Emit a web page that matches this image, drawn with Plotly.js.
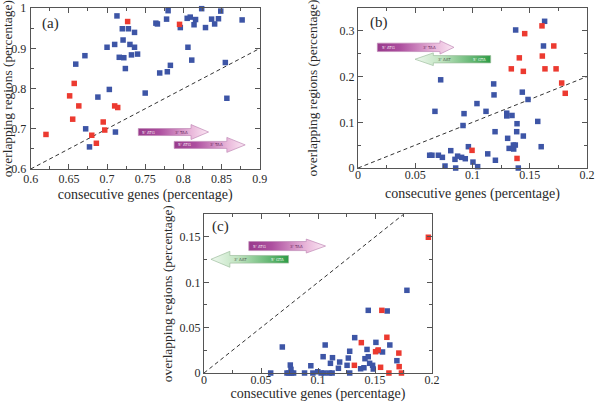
<!DOCTYPE html>
<html>
<head>
<meta charset="utf-8">
<script src="https://cdn.plot.ly/plotly-3.0.1.min.js"></script>
<style>html,body{margin:0;padding:0;background:#fff;}#chart{width:600px;height:402px;}</style>
</head>
<body>
<div id="chart"></div>
<script>
// ---------- data ----------
const xTitle = 'consecutive genes (percentage)';
const yTitle = 'overlapping regions (percentage)';
const panelLabels = ['(a)', '(b)', '(c)'];

// panel (a)
const aBlueX = [0.713,0.720,0.728,0.736,0.721,0.710,0.730,0.700,0.736,0.671,0.716,0.722,0.732,0.740,0.724,0.659,0.703,0.688,0.672,0.711,0.677,0.750,0.764,0.766,0.778,0.780,0.769,0.779,0.783,0.796,0.805,0.809,0.814,0.816,0.824,0.829,0.837,0.841,0.846,0.849,0.877,0.806,0.811,0.855,0.857];
const aBlueY = [0.981,0.949,0.949,0.940,0.921,0.910,0.910,0.903,0.903,0.882,0.878,0.877,0.884,0.886,0.850,0.861,0.798,0.779,0.700,0.692,0.655,0.789,0.963,0.961,0.973,0.994,0.839,0.842,0.858,0.952,0.975,0.978,0.959,0.972,0.999,0.952,0.973,0.961,0.974,0.993,0.971,0.903,0.871,0.865,0.776];
const aRedX = [0.727,0.795,0.657,0.651,0.663,0.655,0.710,0.714,0.695,0.697,0.680,0.686,0.620];
const aRedY = [0.967,0.960,0.813,0.782,0.757,0.724,0.757,0.753,0.717,0.697,0.684,0.664,0.686];

// panel (b)
const bBlueX = [0.0722,0.0672,0.0926,0.0917,0.081,0.0626,0.0646,0.0702,0.0737,0.076,0.0847,0.087,0.0905,0.0937,0.0964,0.0853,0.1004,0.163,0.1377,0.162,0.1185,0.1188,0.1435,0.1485,0.1039,0.1118,0.1299,0.1299,0.1345,0.1389,0.157,0.1197,0.1386,0.1444,0.1307,0.1357,0.1374,0.132,0.136,0.160,0.1133,0.1045,0.12,0.14];
const bBlueY = [0.193,0.124,0.119,0.093,0.038,0.028,0.028,0.028,0.0234,0.0044,0.019,0.026,0.0234,0.0204,0.0467,0.0,0.013,0.321,0.302,0.267,0.184,0.160,0.166,0.150,0.141,0.124,0.120,0.114,0.115,0.097,0.102,0.0795,0.0795,0.070,0.065,0.0503,0.0503,0.043,0.0416,0.0467,0.031,0.003,0.017,0.0];
const bRedX = [0.0996,0.1607,0.1456,0.171,0.1409,0.161,0.1339,0.1444,0.1633,0.173,0.1779,0.181,0.1389];
const bRedY = [0.0387,0.311,0.294,0.267,0.241,0.245,0.217,0.2115,0.217,0.217,0.186,0.1635,0.021];

// panel (c)
const cBlueX = [0.0687,0.0585,0.0757,0.0763,0.0728,0.0745,0.0768,0.0786,0.0882,0.0937,0.0955,0.178,0.1441,0.1607,0.1322,0.1063,0.1045,0.1508,0.163,0.143,0.1278,0.1127,0.119,0.1266,0.1412,0.1441,0.1528,0.1566,0.1109,0.1179,0.1255,0.1374,0.1403,0.1453,0.1479,0.1485,0.1692,0.0998,0.1028,0.1054,0.11,0.1124,0.1278];
const cBlueY = [0.0287,0,0.0088,0.004,0,0,0,0,0,0.008,0,0.0912,0.0691,0.0684,0.039,0.0309,0.018,0.0338,0.0309,0.026,0.024,0.0169,0.0121,0.0165,0.0158,0.018,0.0246,0.0232,0.0107,0.0052,0.0085,0.0047,0.0058,0.0107,0.0085,0.0044,0.0136,0.0014,0,0,0,0,0];
const cRedX = [0.1968,0.156,0.138,0.1604,0.1505,0.1528,0.1709,0.1319,0.1549,0.1712,0.1622,0.1732];
const cRedY = [0.1497,0.0691,0.0335,0.0394,0.0235,0.0254,0.022,0.0085,0.0063,0.007,0,0];

// axis ranges
const aXRange = [0.6, 0.9], aYRange = [0.6, 1.0];
const bXRange = [0, 0.2], bYRange = [0, 0.35];
const cXRange = [0, 0.2], cYRange = [0, 0.175];

// ---------- styles ----------
const BLUE = '#3d55a6', RED = '#ec3a30';
const FONT = '"Liberation Serif", "Times New Roman", Times, serif';
const TXT = '#2a2a2a';
const FRAME = '#555';

function axis(extra) {
  const base = {
    showline: true, mirror: 'allticks', linecolor: FRAME, linewidth: 1,
    ticks: 'inside', ticklen: 5, tickcolor: FRAME, tickwidth: 1,
    showgrid: false, zeroline: false, fixedrange: true,
    tickfont: {family: FONT, size: 12, color: TXT},
    minor: {ticks: 'inside', ticklen: 3, tickcolor: FRAME, showgrid: false},
  };
  const out = Object.assign({}, base, extra);
  out.minor = Object.assign({}, base.minor, extra.minor || {});
  return out;
}
function xTitleObj(s) { return {text: xTitle, font: {family: FONT, size: 14, color: TXT}, standoff: s}; }
function yTitleObj(s) { return {text: yTitle, font: {family: FONT, size: 13.4, color: TXT}, standoff: s}; }

const traces = [];
function scatter(xs, ys, color, xa, ya) {
  traces.push({type: 'scatter', mode: 'markers', x: xs, y: ys, xaxis: xa, yaxis: ya,
    cliponaxis: false, hoverinfo: 'skip',
    marker: {symbol: 'square', size: 5.5, color: color, line: {width: 0}}});
}
function diag(xr, yr, xa, ya) {
  const lo = Math.min(xr[0], yr[0]), hi = Math.max(xr[1], yr[1]);
  traces.push({type: 'scatter', mode: 'lines', x: [lo, hi], y: [lo, hi], xaxis: xa, yaxis: ya,
    hoverinfo: 'skip', line: {color: '#333', width: 1, dash: '4px,3px'}});
}

// decorative gene arrows (drawn in axis units)
const annotations = [];
function geneArrow(spec, xa, ya, kind) {
  const {x0, x1, xt, yc, bh, hh} = spec;
  const xs = [x0, x1, x1, xt, x1, x1, x0, x0];
  const ys = [yc - bh, yc - bh, yc - hh, yc, yc + hh, yc + bh, yc + bh, yc - bh];
  const purple = [[0, '#983a8c'], [0.3, '#ad4f9f'], [0.75, '#e9b7da'], [1, '#fbe8f4']];
  const green = [[0, '#eef8ee'], [0.35, '#bfe3bf'], [1, '#2d9c45']];
  traces.push({type: 'scatter', mode: 'lines', x: xs, y: ys, xaxis: xa, yaxis: ya,
    fill: 'toself', hoverinfo: 'skip',
    line: {color: kind === 'fwd' ? '#c08ab6' : '#9fbf9f', width: 0.7},
    fillgradient: {type: 'horizontal', colorscale: kind === 'fwd' ? purple : green}});
  const lo = Math.min(x0, xt), hi = Math.max(x0, xt);
  const w = hi - lo;
  const lab = kind === 'fwd' ? ["5' ATG", "3' TAA"] : ["3' AAT", "5' GTA"];
  const lx = kind === 'fwd' ? x0 + 0.03 * w : x1 + 0.03 * w;
  const rx = kind === 'fwd' ? x1 - 0.02 * w : x0 - 0.03 * w;
  annotations.push({xref: xa, yref: ya, x: lx, y: yc, text: lab[0], showarrow: false, xanchor: 'left',
    font: {family: 'DejaVu Sans', size: 4, color: kind === 'fwd' ? '#f3e0ee' : '#556655'}});
  annotations.push({xref: xa, yref: ya, x: rx, y: yc, text: lab[1], showarrow: false, xanchor: 'right',
    font: {family: 'DejaVu Sans', size: 4, color: kind === 'fwd' ? '#6a3060' : '#e8f5e8'}});
}

// panel (a)
diag(aXRange, aYRange, 'x', 'y');
geneArrow({x0: 0.741, x1: 0.810, xt: 0.833, yc: 0.692, bh: 0.0087, hh: 0.0186}, 'x', 'y', 'fwd');
geneArrow({x0: 0.788, x1: 0.857, xt: 0.881, yc: 0.660, bh: 0.0087, hh: 0.0186}, 'x', 'y', 'fwd');
scatter(aBlueX, aBlueY, BLUE, 'x', 'y');
scatter(aRedX, aRedY, RED, 'x', 'y');

// panel (b)
diag(bXRange, bYRange, 'x2', 'y2');
geneArrow({x0: 0.0169, x1: 0.0716, xt: 0.0838, yc: 0.264, bh: 0.0092, hh: 0.0146}, 'x2', 'y2', 'fwd');
geneArrow({x0: 0.1159, x1: 0.0658, xt: 0.0498, yc: 0.238, bh: 0.008, hh: 0.0139}, 'x2', 'y2', 'rev');
scatter(bBlueX, bBlueY, BLUE, 'x2', 'y2');
scatter(bRedX, bRedY, RED, 'x2', 'y2');

// panel (c)
diag(cXRange, cYRange, 'x3', 'y3');
geneArrow({x0: 0.0393, x1: 0.0897, xt: 0.1066, yc: 0.140, bh: 0.005, hh: 0.0077}, 'x3', 'y3', 'fwd');
geneArrow({x0: 0.0742, x1: 0.0227, xt: 0.0061, yc: 0.1254, bh: 0.0042, hh: 0.0088}, 'x3', 'y3', 'rev');
scatter(cBlueX, cBlueY, BLUE, 'x3', 'y3');
scatter(cRedX, cRedY, RED, 'x3', 'y3');

// panel labels
const labelPos = [['x domain', 'y domain', 0.04, 0.907], ['x2 domain', 'y2 domain', 0.044, 0.909], ['x3 domain', 'y3 domain', 0.026, 0.926]];
panelLabels.forEach((t, i) => {
  const p = labelPos[i];
  annotations.push({xref: p[0], yref: p[1], x: p[2], y: p[3], text: t, showarrow: false,
    xanchor: 'left', yanchor: 'middle', font: {family: FONT, size: 15, color: TXT}});
});

const xTickShift = -4;
const layout = {
  width: 600, height: 402,
  margin: {l: 0, r: 0, t: 0, b: 0},
  paper_bgcolor: '#fff', plot_bgcolor: '#fff',
  showlegend: false,
  font: {family: FONT, color: TXT},
  xaxis: axis({domain: [0.0512, 0.4328], range: aXRange, tick0: 0.6, dtick: 0.05, minor: {dtick: 0.025}, anchor: 'y', ticklabelstandoff: -1, title: xTitleObj(3)}),
  yaxis: axis({domain: [0.5796, 0.9794], range: aYRange, tick0: 0.6, dtick: 0.1, minor: {dtick: 0.05}, anchor: 'x', ticklabelstandoff: 1, title: yTitleObj(2)}),
  xaxis2: axis({domain: [0.5967, 0.9783], range: bXRange, tick0: 0, dtick: 0.05, minor: {dtick: 0.025}, anchor: 'y2', ticklabelstandoff: xTickShift, title: xTitleObj(6)}),
  yaxis2: axis({domain: [0.582, 0.980], range: bYRange, tick0: 0, dtick: 0.1, minor: {dtick: 0.05}, anchor: 'x2', title: yTitleObj(18)}),
  xaxis3: axis({domain: [0.34, 0.72], range: cXRange, tick0: 0, dtick: 0.05, minor: {dtick: 0.025}, anchor: 'y3', ticklabelstandoff: xTickShift, title: xTitleObj(6)}),
  yaxis3: axis({domain: [0.0721, 0.4669], range: cYRange, tick0: 0, dtick: 0.05, minor: {dtick: 0.025}, anchor: 'x3', title: yTitleObj(3)}),
  annotations: annotations,
};

Plotly.newPlot('chart', traces, layout, {displayModeBar: false, staticPlot: true});
</script>
</body>
</html>
